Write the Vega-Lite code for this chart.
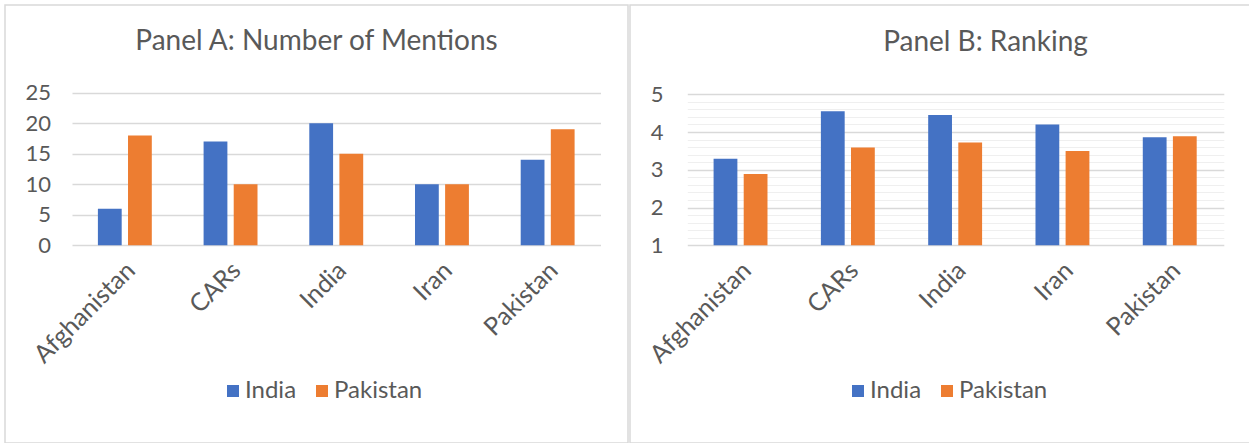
{
  "$schema": "https://vega.github.io/schema/vega-lite/v6.json",
  "padding": {"left": 4, "top": 4, "right": 0, "bottom": 0},
  "background": "white",
  "spacing": 0,
  "resolve": {"scale": {"color": "independent"}, "legend": {"color": "independent"}},
  "datasets": {
    "mentions": [
      {"country": "Afghanistan", "series": "India", "value": 6},
      {"country": "Afghanistan", "series": "Pakistan", "value": 18},
      {"country": "CARs", "series": "India", "value": 17},
      {"country": "CARs", "series": "Pakistan", "value": 10},
      {"country": "India", "series": "India", "value": 20},
      {"country": "India", "series": "Pakistan", "value": 15},
      {"country": "Iran", "series": "India", "value": 10},
      {"country": "Iran", "series": "Pakistan", "value": 10},
      {"country": "Pakistan", "series": "India", "value": 14},
      {"country": "Pakistan", "series": "Pakistan", "value": 19}
    ],
    "ranking": [
      {"country": "Afghanistan", "series": "India", "value": 3.29},
      {"country": "Afghanistan", "series": "Pakistan", "value": 2.89},
      {"country": "CARs", "series": "India", "value": 4.55},
      {"country": "CARs", "series": "Pakistan", "value": 3.59},
      {"country": "India", "series": "India", "value": 4.45},
      {"country": "India", "series": "Pakistan", "value": 3.72},
      {"country": "Iran", "series": "India", "value": 4.2},
      {"country": "Iran", "series": "Pakistan", "value": 3.5},
      {"country": "Pakistan", "series": "India", "value": 3.86},
      {"country": "Pakistan", "series": "Pakistan", "value": 3.89}
    ]
  },
  "config": {
    "font": "Lato",
    "view": {"stroke": "#d9d9d9", "strokeWidth": 1.5},
    "axis": {
      "labelColor": "#595959",
      "labelFont": "Lato",
      "labelFontSize": 22,
      "ticks": false,
      "tickSize": 0,
      "domain": false,
      "title": null,
      "gridColor": "#d9d9d9",
      "gridWidth": 1.5
    },
    "title": {
      "color": "#595959",
      "font": "Lato",
      "fontSize": 28,
      "fontWeight": "normal",
      "anchor": "middle",
      "frame": "group",
      "baseline": "alphabetic"
    },
    "legend": {
      "orient": "none",
      "direction": "horizontal",
      "title": null,
      "symbolType": "square",
      "symbolSize": 144,
      "symbolStrokeWidth": 0,
      "labelFont": "Lato",
      "labelFontSize": 24,
      "labelColor": "#595959",
      "labelOffset": 0,
      "columnPadding": 13
    }
  },
  "hconcat": [
    {
      "width": 623,
      "height": 438,
      "data": {"name": "mentions"},
      "title": {"text": "Panel A: Number of Mentions", "offset": -51},
      "mark": {"type": "bar"},
      "encoding": {
        "x": {
          "field": "country", "type": "nominal", "sort": null,
          "scale": {"range": [67, 595.5], "paddingInner": 0.49, "paddingOuter": 0.245},
          "axis": {"labelAngle": -45, "labelAlign": "right", "labelBaseline": "middle", "offset": -177, "labelOffset": 6, "labelPadding": 0, "labelFontSize": 25, "grid": false}
        },
        "xOffset": {"field": "series", "type": "nominal", "scale": {"paddingInner": 0.21, "paddingOuter": 0}},
        "y": {
          "field": "value", "type": "quantitative",
          "scale": {"domain": [0, 25], "range": [240.3, 87.7], "nice": false},
          "axis": {"values": [0, 5, 10, 15, 20, 25], "labelPadding": -45.5, "grid": true}
        },
        "y2": {"datum": 0},
        "color": {
          "field": "series", "type": "nominal",
          "scale": {"domain": ["India", "Pakistan"], "range": ["#4472C4", "#ED7D31"]},
          "legend": {"legendX": 216, "legendY": 374}
        }
      }
    },
    {
      "width": 621,
      "height": 438,
      "data": {"name": "ranking"},
      "title": {"text": "Panel B: Ranking", "offset": -52, "dx": 45},
      "mark": {"type": "bar"},
      "encoding": {
        "x": {
          "field": "country", "type": "nominal", "sort": null,
          "scale": {"range": [57.3, 593.8], "paddingInner": 0.49, "paddingOuter": 0.245},
          "axis": {"labelAngle": -45, "labelAlign": "right", "labelBaseline": "middle", "offset": -177, "labelOffset": 6, "labelPadding": 0, "labelFontSize": 25, "grid": false}
        },
        "xOffset": {"field": "series", "type": "nominal", "scale": {"paddingInner": 0.21, "paddingOuter": 0}},
        "y": {
          "field": "value", "type": "quantitative",
          "scale": {"domain": [1, 5], "range": [240.3, 89.3], "nice": false, "zero": false},
          "axis": {
            "values": [1, 1.2, 1.4, 1.6, 1.8, 2, 2.2, 2.4, 2.6, 2.8, 3, 3.2, 3.4, 3.6, 3.8, 4, 4.2, 4.4, 4.6, 4.8, 5],
            "labelExpr": "datum.value % 1 === 0 ? format(datum.value, 'd') : ''",
            "labelPadding": -33,
            "grid": true,
            "gridColor": {"condition": {"test": "datum.value % 1 === 0", "value": "#d9d9d9"}, "value": "#efefef"},
            "gridWidth": {"condition": {"test": "datum.value % 1 === 0", "value": 1.5}, "value": 1}
          }
        },
        "y2": {"datum": 1},
        "color": {
          "field": "series", "type": "nominal",
          "scale": {"domain": ["India", "Pakistan"], "range": ["#4472C4", "#ED7D31"]},
          "legend": {"legendX": 216, "legendY": 374}
        }
      }
    }
  ]
}
